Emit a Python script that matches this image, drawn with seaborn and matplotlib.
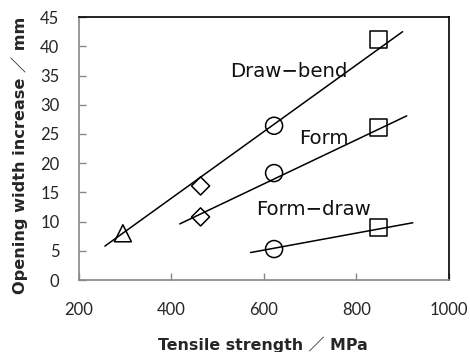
import matplotlib
matplotlib.use("Agg")
import matplotlib.pyplot as plt
import seaborn as sns
import pandas as pd

# ---- data ----
tri_x = [295]
tri_y = [8.0]
dia_x = [463, 463]
dia_y = [16.1, 10.8]
cir_x = [622, 622, 622]
cir_y = [26.4, 18.3, 5.3]
sq_x = [848, 848, 848]
sq_y = [41.1, 26.1, 9.0]

# fitted trend lines (end points)
series = ["Draw−bend", "Form", "Form−draw"]
line_x0 = [256, 418, 571]
line_y0 = [5.8, 9.6, 4.7]
line_x1 = [900, 909, 922]
line_y1 = [42.5, 28.1, 9.8]

# label positions (data coords, left/center)
label_x = [526, 676, 584]
label_y = [35.7, 24.3, 12.0]

x_ticks = [200, 400, 600, 800, 1000]
y_ticks = [0, 5, 10, 15, 20, 25, 30, 35, 40, 45]

sns.set_style("ticks")
plt.rcParams["font.family"] = ["DejaVu Sans"]

fig = plt.figure(figsize=(4.7, 3.52), dpi=100)
ax = fig.add_axes([0.168, 0.2045, 0.787, 0.747])

# lines
rows = []
for s, a, b, c, d in zip(series, line_x0, line_y0, line_x1, line_y1):
    rows.append({"series": s, "x": a, "y": b})
    rows.append({"series": s, "x": c, "y": d})
lines = pd.DataFrame(rows)
for s in series:
    sub = lines[lines["series"] == s]
    sns.lineplot(data=sub, x="x", y="y", ax=ax, color="black", lw=1.1,
                 estimator=None, sort=False, legend=False, zorder=2)

# markers
groups = [(tri_x, tri_y, "^", 150), (dia_x, dia_y, "D", 85),
          (cir_x, cir_y, "o", 150), (sq_x, sq_y, "s", 150)]
for gx, gy, m, s in groups:
    df = pd.DataFrame({"x": gx, "y": gy})
    sns.scatterplot(data=df, x="x", y="y", ax=ax, marker=m, s=s,
                    facecolor="none", edgecolor="black", linewidth=1.1,
                    legend=False, zorder=3)

for t, lx, ly in zip(series, label_x, label_y):
    ax.text(lx, ly, t, fontsize=14.2, ha="left", va="center",
            family=["DejaVu Sans"], color="#111111")

ax.set_xlim(200, 1000)
ax.set_ylim(0, 45)
ax.set_xticks(x_ticks)
ax.set_yticks(y_ticks)
ax.set_xticklabels([str(v) for v in x_ticks], family=["Lato"], fontsize=12)
ax.set_yticklabels([str(v) for v in y_ticks], family=["Lato"], fontsize=12)
ax.tick_params(axis="both", direction="in", length=5, width=1, color="#888888")
ax.tick_params(axis="x", pad=16)
ax.tick_params(axis="y", pad=14)

for side in ["left", "bottom"]:
    ax.spines[side].set_color("#888888")
    ax.spines[side].set_linewidth(1.2)
for side in ["top", "right"]:
    ax.spines[side].set_visible(True)
    ax.spines[side].set_color("black")
    ax.spines[side].set_linewidth(1.2)

lab_family = ["DejaVu Sans", "Noto Sans CJK JP"]
ax.set_xlabel("Tensile strength ／ MPa", family=lab_family,
              fontsize=11.4, fontweight="bold")
ax.set_ylabel("Opening width increase ／ mm", family=lab_family,
              fontsize=11.6, fontweight="bold")
ax.xaxis.set_label_coords(0.497, -0.247)
ax.yaxis.set_label_coords(-0.16, 0.475)
ax.xaxis.label.set_va("center")
ax.yaxis.label.set_va("center")

fig.savefig("out.png", dpi=100)
